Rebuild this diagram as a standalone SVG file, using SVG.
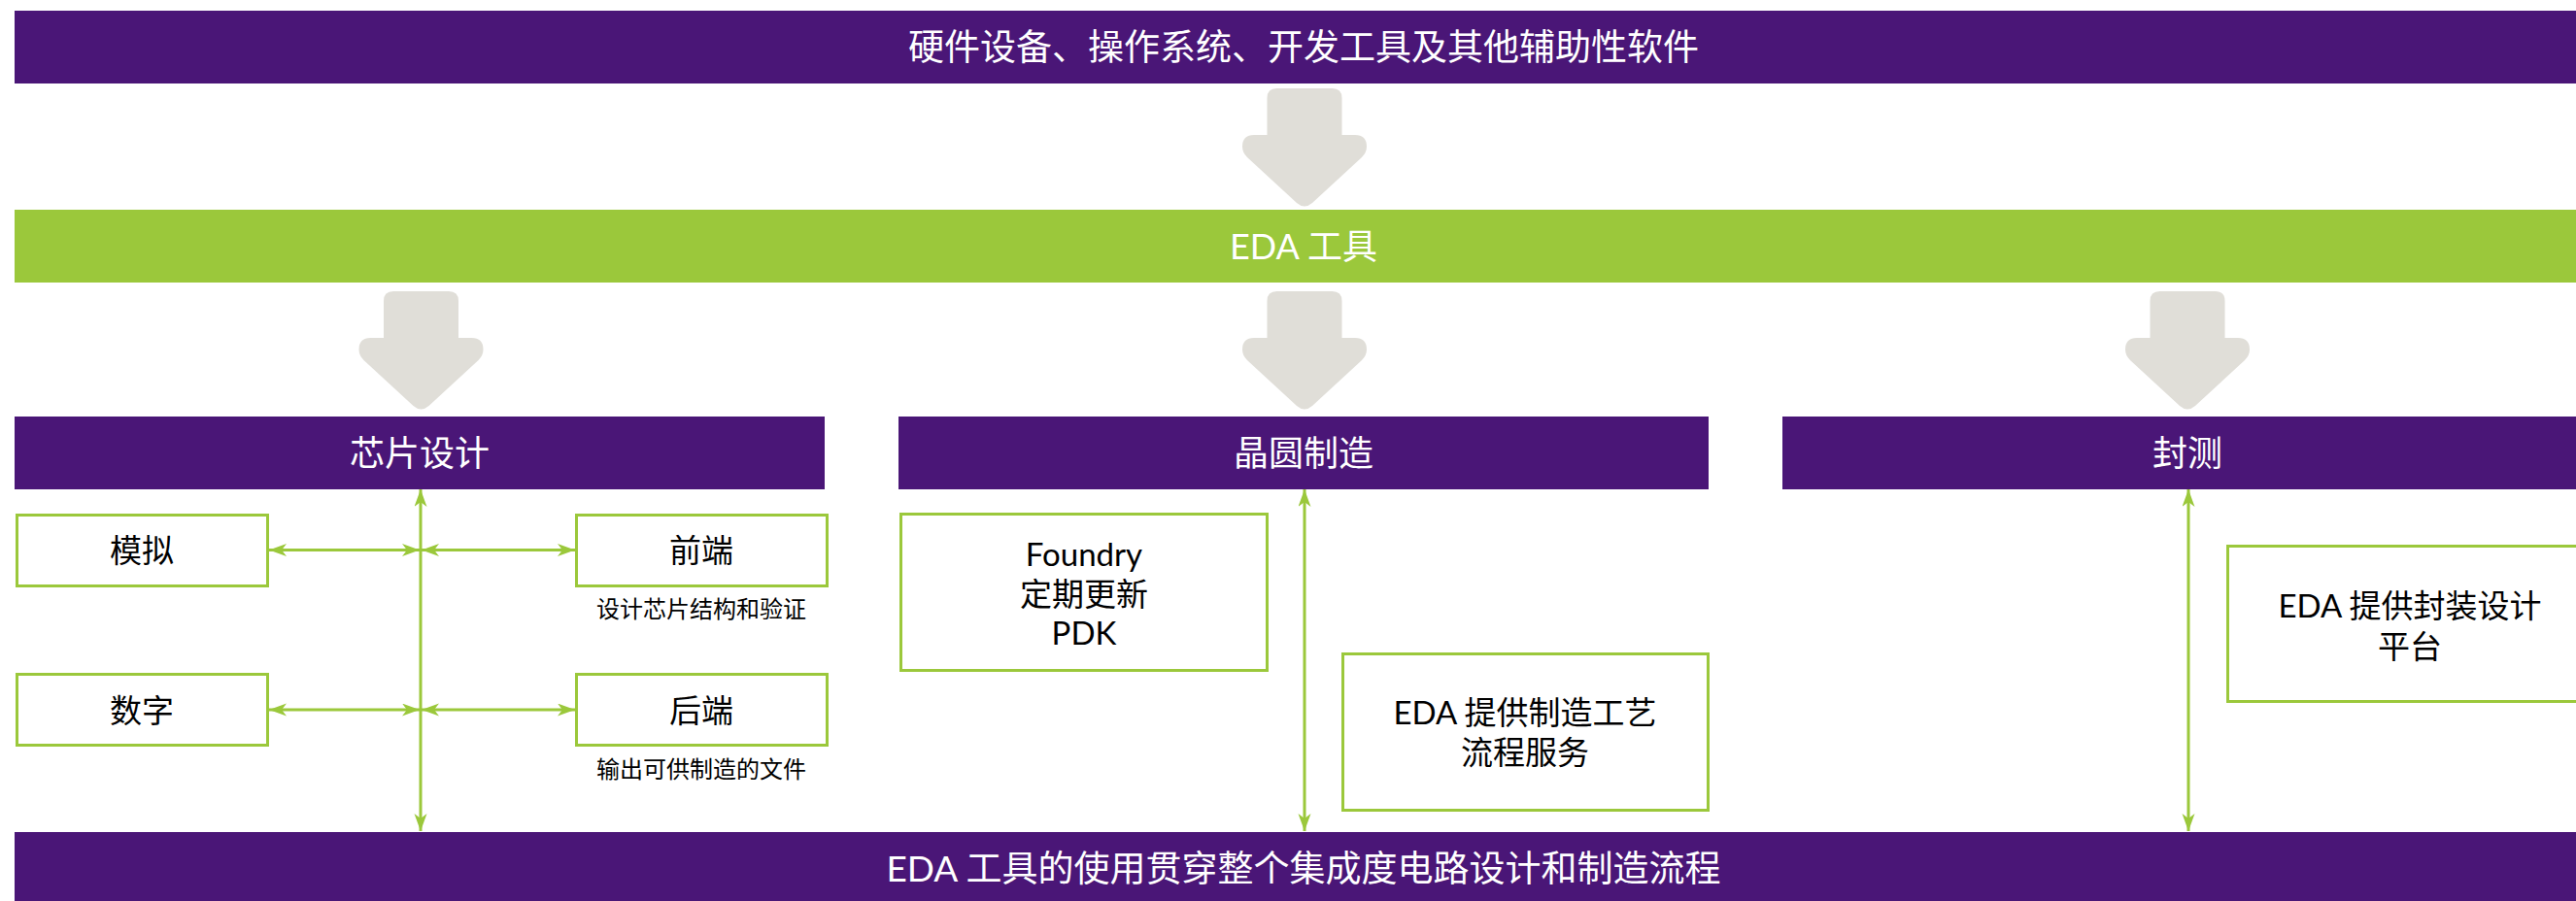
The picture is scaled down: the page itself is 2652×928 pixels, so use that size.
<svg xmlns="http://www.w3.org/2000/svg" xmlns:xlink="http://www.w3.org/1999/xlink" width="2652" height="928" viewBox="0 0 2652 928">
  <style>
    text { font-family: "Lato", "Noto Sans CJK SC", sans-serif; text-anchor: middle; }
    .bar { fill: #4A1677; }
    .gbar { fill: #9BC83B; }
    .wt { fill: #FFFFFF; font-size: 36px; }
    .box { fill: #FFFFFF; stroke: #9BC83B; stroke-width: 3; }
    .bt { fill: #000000; font-size: 33px; }
    .st { fill: #000000; font-size: 24px; }
    .conn { stroke: #9BC83B; stroke-width: 3; fill: none; marker-start: url(#ah); marker-end: url(#ah); }
    .big { fill: #E0DED8; }
  </style>
  <defs>
    <marker id="ah" markerUnits="userSpaceOnUse" markerWidth="20" markerHeight="14" refX="18" refY="6.5" orient="auto-start-reverse" viewBox="0 0 20 14">
      <path d="M0,0 L18,6.5 L0,13 L5,6.5 Z" fill="#9BC83B"/>
    </marker>
    <path id="bigArrow" class="big" d="M -28.5,0 H 28.5 Q 38.5,0 38.5,10 V 48 H 52 Q 64,48 64,60 Q 64,66 59,71 L 8,118 Q 0,125 -8,118 L -59,71 Q -64,66 -64,60 Q -64,48 -52,48 H -38.5 V 10 Q -38.5,0 -28.5,0 Z"/>
  </defs>

  <g id="top-bar">
    <rect class="bar" x="15" y="11" width="2654" height="75"/>
    <text class="wt" x="1342" y="62" style="font-size:37px">硬件设备、操作系统、开发工具及其他辅助性软件</text>
  </g>

  <g id="eda-bar">
    <rect class="gbar" x="15" y="216" width="2654" height="75"/>
    <text class="wt" x="1342" y="267">EDA 工具</text>
  </g>

  <g id="big-arrows">
    <use href="#bigArrow" xlink:href="#bigArrow" x="1343" y="91"/>
    <use href="#bigArrow" xlink:href="#bigArrow" x="433.5" y="300"/>
    <use href="#bigArrow" xlink:href="#bigArrow" x="1343" y="300"/>
    <use href="#bigArrow" xlink:href="#bigArrow" x="2252" y="300"/>
  </g>

  <g id="hdr-design">
    <rect class="bar" x="15" y="429" width="834" height="75"/>
    <text class="wt" x="432" y="480">芯片设计</text>
  </g>
  <g id="hdr-fab">
    <rect class="bar" x="925" y="429" width="834" height="75"/>
    <text class="wt" x="1342" y="480">晶圆制造</text>
  </g>
  <g id="hdr-pkg">
    <rect class="bar" x="1835" y="429" width="834" height="75"/>
    <text class="wt" x="2252" y="480">封测</text>
  </g>

  <g id="bottom-bar">
    <rect class="bar" x="15" y="857" width="2654" height="80"/>
    <text class="wt" x="1342" y="908" style="font-size:37px">EDA 工具的使用贯穿整个集成度电路设计和制造流程</text>
  </g>

  <g id="connectors">
    <line class="conn" x1="433" y1="504" x2="433" y2="856"/>
    <line class="conn" x1="1343" y1="504" x2="1343" y2="856"/>
    <line class="conn" x1="2253" y1="504" x2="2253" y2="856"/>
    <line class="conn" x1="277" y1="566.5" x2="432" y2="566.5"/>
    <line class="conn" x1="434" y1="566.5" x2="592" y2="566.5"/>
    <line class="conn" x1="277" y1="731" x2="432" y2="731"/>
    <line class="conn" x1="434" y1="731" x2="592" y2="731"/>
  </g>

  <g id="analog">
    <rect class="box" x="17.5" y="530.5" width="258" height="73"/>
    <text class="bt" x="146" y="579">模拟</text>
  </g>
  <g id="digital">
    <rect class="box" x="17.5" y="694.5" width="258" height="73"/>
    <text class="bt" x="146" y="744">数字</text>
  </g>
  <g id="frontend">
    <rect class="box" x="593.5" y="530.5" width="258" height="73"/>
    <text class="bt" x="722" y="579">前端</text>
    <text class="st" x="722" y="636">设计芯片结构和验证</text>
  </g>
  <g id="backend">
    <rect class="box" x="593.5" y="694.5" width="258" height="73"/>
    <text class="bt" x="722" y="744">后端</text>
    <text class="st" x="722" y="801">输出可供制造的文件</text>
  </g>

  <g id="foundry">
    <rect class="box" x="927.5" y="529.5" width="377" height="161"/>
    <text class="bt" x="1116" y="583">Foundry</text>
    <text class="bt" x="1116" y="624">定期更新</text>
    <text class="bt" x="1116" y="664">PDK</text>
  </g>
  <g id="eda-process">
    <rect class="box" x="1382.5" y="673.5" width="376" height="161"/>
    <text class="bt" x="1570" y="746">EDA 提供制造工艺</text>
    <text class="bt" x="1570" y="787">流程服务</text>
  </g>
  <g id="eda-package">
    <rect class="box" x="2293.5" y="562.5" width="376" height="160"/>
    <text class="bt" x="2481" y="636">EDA 提供封装设计</text>
    <text class="bt" x="2481" y="678">平台</text>
  </g>
</svg>
